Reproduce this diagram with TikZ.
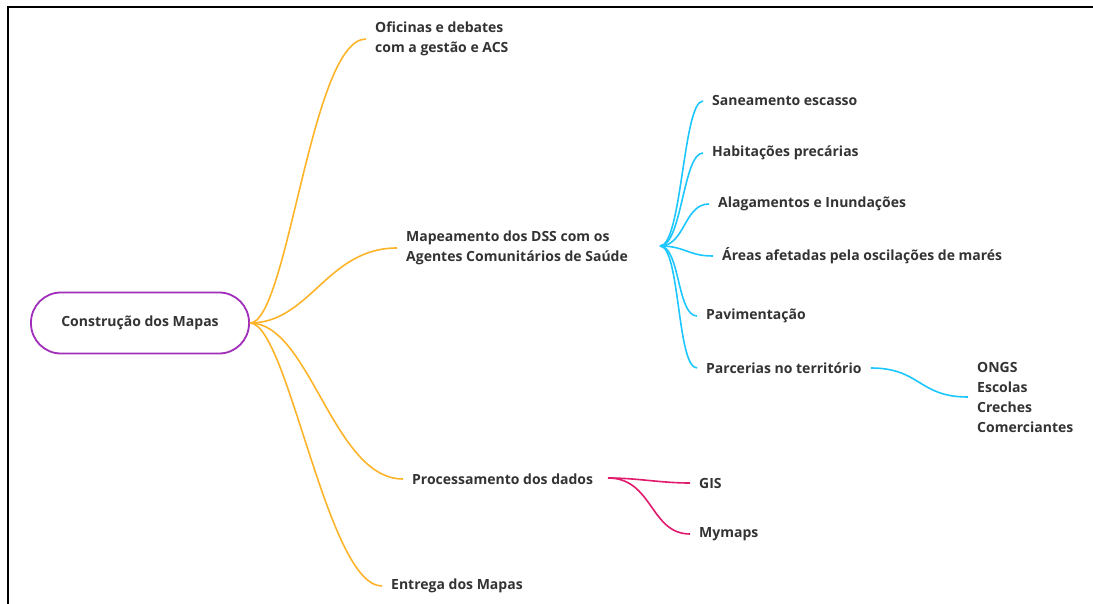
\documentclass[tikz,border=0pt]{standalone}
\usepackage{fontspec}
\setmainfont{Open Sans}
\definecolor{txt}{HTML}{333333}
\definecolor{orng}{HTML}{FDB42A}
\definecolor{sky}{HTML}{1CC6FF}
\definecolor{pink}{HTML}{E11A6C}
\definecolor{purp}{HTML}{A22DBA}
\tikzset{
  lbl/.style={anchor=west, inner xsep=9pt, inner ysep=2pt, yshift=-2pt, text=txt, font=\bfseries\fontsize{14}{19.5}\selectfont, align=left},
  obr/.style={draw=orng, line width=1.6pt},
  bbr/.style={draw=sky, line width=1.6pt},
  pbr/.style={draw=pink, line width=1.6pt},
}
\begin{document}
\begin{tikzpicture}[x=1pt,y=-1pt]
\useasboundingbox (0,0) rectangle (1093,604);
\draw[line width=2pt] (1093,7) -- (8,7) -- (8,604);
% central
\node[draw=purp, line width=1.8pt, rounded corners=30pt, minimum width=218pt, minimum height=61pt, text=txt, font=\bfseries\fontsize{14}{17}\selectfont] (root) at (140,323) {Construção dos Mapas};
% level 1
\node[lbl] (ofi) at (366,37) {Oficinas e debates\\com a gestão e ACS};
\node[lbl] (map) at (397,246) {Mapeamento dos DSS com os\\Agentes Comunitários de Saúde};
\node[lbl] (pro) at (403,477) {Processamento dos dados};
\node[lbl] (ent) at (382,584) {Entrega dos Mapas};
\coordinate (r) at (root.east);
\draw[obr] (r) .. controls +(38,0) and +(-55,0) .. (ofi.west);
\draw[obr] (r) .. controls +(60,0) and +(-70,0) .. (map.west);
\draw[obr] (r) .. controls +(60,0) and +(-70,0) .. (pro.west);
\draw[obr] (r) .. controls +(38,0) and +(-55,0) .. (ent.west);
% blue children
\coordinate (hub) at (660,246);
\node[lbl] (san) at (703,99) {Saneamento escasso};
\node[lbl] (hab) at (703,151) {Habitações precárias};
\node[lbl] (ala) at (709,202) {Alagamentos e Inundações};
\node[lbl] (are) at (713,254) {Áreas afetadas pela oscilações de marés};
\node[lbl] (pav) at (697,314) {Pavimentação};
\node[lbl] (par) at (697,366) {Parcerias no território};
\draw[bbr] (hub) .. controls +(22,0) and +(-20,0) .. (san.west);
\draw[bbr] (hub) .. controls +(22,0) and +(-20,0) .. (hab.west);
\draw[bbr] (hub) .. controls +(25,0) and +(-25,0) .. (ala.west);
\draw[bbr] (hub) .. controls +(25,0) and +(-25,0) .. (are.west);
\draw[bbr] (hub) .. controls +(20,0) and +(-20,0) .. (pav.west);
\draw[bbr] (hub) .. controls +(20,0) and +(-20,0) .. (par.west);
\node[lbl, inner ysep=0pt, font=\bfseries\fontsize{14}{20}\selectfont] (ong) at (968,395) {ONGS\\Escolas\\Creches\\Comerciantes};
\draw[bbr] (par.east) .. controls +(50,0) and +(-50,0) .. (ong.west);
% pink
\coordinate (ph) at (608,478);
\node[lbl] (gis) at (690,481) {GIS};
\node[lbl] (mym) at (690,532) {Mymaps};
\draw[pbr] (ph) .. controls +(30,0) and +(-30,0) .. (gis.west);
\draw[pbr] (ph) .. controls +(45,0) and +(-40,0) .. (mym.west);
\end{tikzpicture}
\end{document}
